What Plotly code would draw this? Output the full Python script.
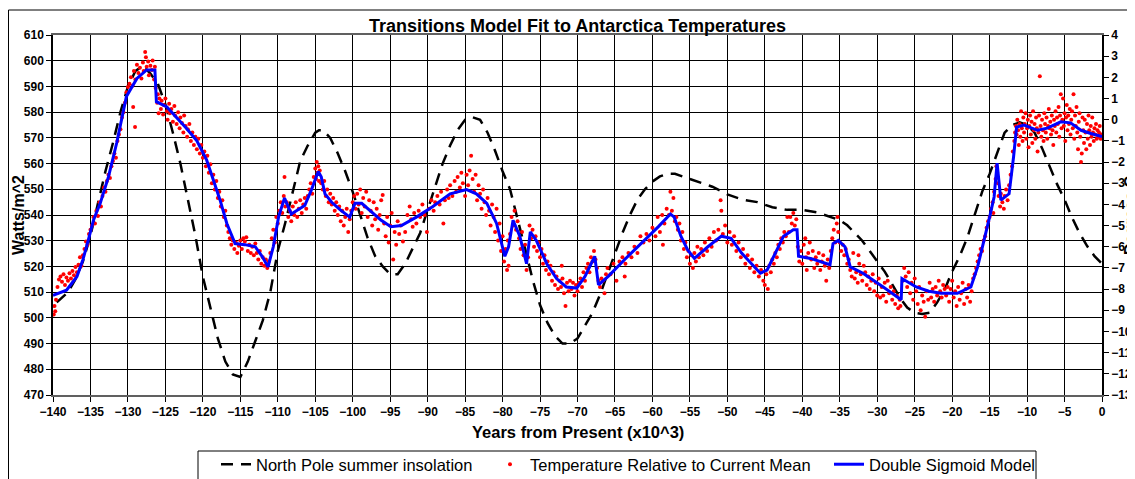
import plotly.graph_objects as go

# North Pole summer insolation (W/m^2)
insol_years = [-139.5, -138, -137, -136, -135, -134, -133, -132, -131, -130, -129, -128, -127, -126,
               -125, -124, -123, -122, -121, -120, -119, -118, -117, -116, -115, -114, -113, -112,
               -111, -110, -109, -108, -107, -106, -105, -104.5, -104, -103, -102, -101, -100, -99,
               -98, -97, -96, -95, -94, -93, -92, -91, -90, -89, -88, -87, -86, -85, -84, -83, -82,
               -81, -80, -79, -78, -77, -76, -75, -74, -73, -72, -71, -70, -69, -68, -67, -66, -65,
               -64, -63, -62, -61, -60, -59, -58, -57, -56, -55, -54, -52, -50, -48, -46, -44, -42,
               -40, -38, -36, -35, -34, -33, -32, -31, -30, -29, -28, -27, -26, -25, -24, -23, -22,
               -21, -20, -19, -18, -17, -16, -15, -14, -13, -12, -11, -10, -9, -8, -7, -6, -5, -4,
               -3, -2, -1, 0]
insol_watts = [506, 510, 515, 522, 532, 545, 557, 568, 580, 590, 596, 598, 595, 591,
               583, 572, 560, 546, 532, 516, 504, 492, 483, 478, 477, 483, 491, 499,
               510, 526, 537, 549, 561, 567, 572, 573, 573, 570, 564, 557, 549, 540,
               531, 524, 520, 517, 517, 521, 527, 533, 542, 551, 560, 567, 573, 577, 578, 577, 572,
               565, 557, 550, 539, 527, 515, 505, 498, 493, 490, 490, 492, 497, 502, 509, 517, 525,
               533, 540, 546, 550, 553, 555, 556, 556, 555, 554, 553, 551, 548, 546, 545, 543, 542,
               542, 541, 539, 538, 536, 533, 530, 526, 522, 518, 513, 508, 504, 502, 501.5, 502, 506,
               511, 518, 524, 531, 540, 549, 556, 564, 572, 575, 576, 575, 572, 566, 559, 552, 546, 539,
               533, 528, 524, 521]

# Double sigmoid model (degrees C)
model_years = [-140, -138.2, -136.8, -136.0, -135.3, -134.6, -133.7, -132.6, -131.5, -130.8, -130.2,
               -128.8, -127.5, -126.4, -126.2, -124.8, -123.5, -122.2, -120.8, -119.5, -118.6, -117.7,
               -116.8, -115.7, -114.4, -113.0, -112.1, -111.3, -110.6, -109.9, -109.1, -108.2, -107.3,
               -106.4, -105.5, -104.6, -104.2, -103.7, -102.8, -101.7, -100.4, -99.7, -98.8, -97.5,
               -96.2, -94.9, -93.5, -91.5, -89.3, -87.0, -84.8, -83.5, -82.1, -80.8, -79.7, -79.2,
               -78.6, -77.7, -76.8, -76.3, -75.5, -74.1, -72.8, -71.5, -70.1, -69.0, -67.7, -67.2,
               -65.9, -63.7, -61.5, -59.2, -57.6, -57.1, -56.2, -55.3, -54.4, -52.6, -50.8, -49.5,
               -48.1, -46.8, -45.6, -44.7, -43.4, -42.5, -41.2, -40.7, -40.5, -38.9, -36.3, -35.9,
               -35.2, -34.3, -33.6, -31.9, -29.2, -26.8, -26.7, -24.8, -23.1, -21.5, -19.3, -17.5,
               -16.6, -15.7, -14.9, -14.4, -14.0, -13.5, -12.4, -11.8, -11.4, -10.4, -8.6, -7.3,
               -5.5, -4.2, -2.8, -1.5, 0]
model_temps = [-8.3, -8.05, -7.4, -6.6, -5.7, -4.75, -3.95, -2.7, -1.1, 0.0, 1.1,
               1.95, 2.35, 2.35, 0.85, 0.6, 0.1, -0.4, -1.0, -1.9, -2.85, -3.8,
               -4.9, -5.85, -5.9, -6.0, -6.45, -6.95, -6.0, -4.6, -3.7, -4.45, -4.25,
               -4.05, -3.3, -2.45, -2.7, -3.5, -3.9, -4.25, -4.6, -3.95, -3.95, -4.35,
               -4.75, -5.05, -5.0, -4.6, -4.1, -3.5, -3.3, -3.5, -3.95, -4.9, -6.45, -6.0,
               -4.75, -5.5, -6.8, -5.3, -5.7, -6.8, -7.5, -7.9, -7.95, -7.4, -6.45, -7.8,
               -7.4, -6.6, -5.85, -5.05, -4.45, -4.6, -5.5, -6.15, -6.55, -6.0, -5.5, -5.6,
               -6.3, -6.8, -7.25, -7.1, -6.15, -5.5, -5.2, -5.2, -6.45, -6.55, -6.85, -5.85,
               -5.7, -6.0, -6.95, -7.25, -7.9, -8.5, -7.5, -7.9, -8.1, -8.2, -8.2, -7.9,
               -6.95, -5.7, -4.45, -3.65, -2.05, -3.8, -3.5, -1.75, -0.35, -0.25, -0.5, -0.4,
               -0.1, -0.15, -0.5, -0.65, -0.8]

# Ice core temperature relative to current mean (year, degrees C)
temp_points = [
    (-139.9, -9.2), (-139.8, -8.8), (-139.7, -9.05), (-139.6, -8.5), (-139.4, -7.9), (-139.2, -7.55),
    (-139.0, -7.4), (-138.8, -7.65), (-138.6, -7.3), (-138.4, -7.8), (-138.2, -7.45), (-138.0, -7.6),
    (-137.8, -7.25), (-137.6, -7.5), (-137.4, -7.15), (-137.2, -7.35), (-137.0, -6.95), (-136.8, -7.2),
    (-136.6, -6.85), (-136.4, -6.5), (-136.2, -6.9), (-136.0, -6.4),
    (-135.8, -6.1), (-135.6, -5.75), (-135.4, -5.9), (-135.2, -5.4), (-135.0, -5.2), (-134.8, -5.0),
    (-134.6, -4.6), (-134.4, -4.9), (-134.2, -4.3), (-134.0, -4.55), (-133.8, -3.9), (-133.6, -4.1),
    (-133.4, -3.6), (-133.2, -3.2), (-133.0, -3.4), (-132.8, -2.9), (-132.6, -2.6), (-132.4, -2.75),
    (-132.2, -2.2), (-132.0, -1.95), (-131.8, -1.6), (-131.6, -1.8), (-131.4, -1.0), (-131.2, -0.7),
    (-131.0, -0.45), (-130.8, 0.1), (-130.6, 0.35), (-130.4, 0.8), (-130.2, 1.3), (-130.0, 1.55),
    (-129.3, 0.6), (-129.05, -0.35),
    (-129.8, 1.7), (-129.6, 2.0), (-129.4, 1.6), (-129.2, 2.3), (-129.0, 1.9), (-128.8, 2.6),
    (-128.6, 2.2), (-128.4, 2.45), (-128.2, 1.95), (-128.0, 2.7), (-127.9, 2.3), (-127.7, 3.2),
    (-127.6, 2.95), (-127.5, 2.5), (-127.3, 2.75), (-127.2, 2.1), (-127.0, 2.55), (-126.8, 2.35),
    (-126.7, 2.8), (-126.5, 1.9), (-126.4, 2.5), (-126.3, 1.5),
    (-126.1, 0.8), (-126.0, 1.2), (-125.9, 0.3), (-125.8, 1.0), (-125.6, 0.5), (-125.5, 0.9),
    (-125.3, 0.25), (-125.2, 0.7), (-125.0, 1.0), (-124.8, 0.4), (-124.7, 0.0), (-124.5, 0.75),
    (-124.4, 0.3), (-124.2, 0.5), (-124.0, -0.1), (-123.8, 0.65), (-123.7, 0.2), (-123.5, -0.2),
    (-123.3, 0.35), (-123.1, -0.4), (-123.0, 0.1), (-122.8, -0.15), (-122.6, -0.6), (-122.5, 0.2),
    (-122.3, -0.3), (-122.1, -0.8), (-122.0, -0.45), (-121.8, -0.2), (-121.6, -1.0), (-121.4, -0.6),
    (-121.2, -1.2), (-121.0, -0.8), (-120.8, -1.4), (-120.6, -0.9), (-120.4, -1.6), (-120.2, -1.2),
    (-120.0, -1.8), (-119.8, -1.5), (-119.6, -2.2), (-119.4, -1.7), (-119.2, -2.5), (-119.0, -2.1),
    (-118.8, -3.0), (-118.6, -2.6), (-118.4, -3.3), (-118.2, -2.9), (-118.0, -3.7),
    (-117.8, -3.4), (-117.6, -4.1), (-117.4, -3.8), (-117.2, -4.6), (-117.0, -4.3), (-116.8, -5.0),
    (-116.6, -5.3), (-116.4, -5.6), (-116.2, -5.9), (-116.0, -5.7), (-115.8, -6.1), (-115.6, -5.8),
    (-115.4, -6.3), (-115.2, -5.95), (-115.0, -5.7), (-114.8, -6.1), (-114.6, -5.6), (-114.4, -5.75),
    (-114.2, -5.55), (-114.0, -6.2), (-113.8, -5.9), (-113.6, -6.3), (-113.4, -6.0), (-113.2, -6.4),
    (-113.0, -5.85), (-112.8, -6.3), (-112.6, -6.6), (-112.4, -6.2), (-112.2, -6.8), (-112.0, -6.5),
    (-111.8, -6.9), (-111.6, -6.6), (-111.4, -7.0), (-111.2, -6.7), (-111.0, -6.3),
    (-110.8, -5.6), (-110.6, -5.2), (-110.4, -5.8), (-110.2, -4.6), (-110.0, -4.9), (-109.8, -4.3),
    (-109.6, -3.9), (-109.4, -4.4), (-109.2, -3.6), (-109.1, -2.7), (-109.0, -4.1), (-108.8, -3.9),
    (-108.6, -4.6), (-108.4, -4.3), (-108.2, -4.8), (-108.0, -4.1), (-107.8, -4.5), (-107.6, -3.9),
    (-107.4, -4.6), (-107.2, -4.2), (-107.0, -3.8), (-106.8, -4.4), (-106.6, -4.0), (-106.4, -3.7),
    (-106.2, -4.2), (-106.0, -3.6), (-105.8, -3.3), (-105.6, -3.0), (-105.4, -3.5), (-105.2, -2.7),
    (-105.0, -2.3), (-104.9, -2.8), (-104.8, -2.0), (-104.7, -2.5), (-104.6, -2.2), (-104.5, -2.9),
    (-104.4, -2.4),
    (-104.2, -3.0), (-104.0, -3.3), (-103.8, -2.9), (-103.6, -3.6), (-103.4, -3.3), (-103.2, -3.9),
    (-103.0, -3.5), (-102.8, -4.0), (-102.6, -3.7), (-102.4, -4.3), (-102.2, -3.9), (-102.0, -4.5),
    (-101.8, -4.1), (-101.6, -4.8), (-101.4, -4.3), (-101.2, -5.0), (-101.0, -4.6), (-100.8, -4.2),
    (-100.6, -5.3), (-100.4, -4.7), (-100.2, -4.3), (-100.0, -3.9),
    (-99.8, -3.6), (-99.6, -4.2), (-99.4, -3.5), (-99.2, -4.0), (-99.0, -3.3), (-98.8, -4.4),
    (-98.6, -3.7), (-98.4, -4.1), (-98.2, -3.4), (-98.0, -4.6), (-97.8, -3.8), (-97.6, -4.3),
    (-97.4, -5.0), (-97.2, -3.9), (-97.0, -4.7), (-96.8, -4.2), (-96.6, -5.2), (-96.4, -4.5),
    (-96.2, -3.8), (-96.0, -3.55), (-95.8, -4.9), (-95.6, -5.5), (-95.4, -4.6), (-95.2, -5.8),
    (-95.0, -5.0), (-94.8, -4.4), (-94.6, -6.6), (-94.4, -5.3), (-94.2, -5.9), (-94.0, -4.8),
    (-93.8, -5.4), (-93.6, -5.0), (-93.3, -5.75), (-93.0, -5.3),
    (-92.7, -4.5), (-92.4, -4.1), (-92.2, -4.7), (-92.0, -5.05), (-91.8, -4.4), (-91.5, -4.9),
    (-91.2, -4.3), (-91.0, -4.6), (-90.7, -4.0), (-90.4, -4.5), (-90.1, -5.3), (-89.8, -4.2),
    (-89.5, -3.8), (-89.2, -4.3), (-89.0, -3.9), (-88.7, -3.6), (-88.4, -4.0), (-88.2, -3.4),
    (-87.9, -4.9), (-87.7, -3.8), (-87.4, -3.3), (-87.2, -3.7), (-87.0, -3.1), (-86.7, -3.6),
    (-86.4, -2.9), (-86.2, -3.4), (-86.0, -2.7), (-85.7, -3.2), (-85.5, -2.5), (-85.3, -3.0),
    (-85.0, -3.6), (-84.8, -2.6), (-84.6, -3.1), (-84.4, -2.4), (-84.2, -1.7), (-84.0, -2.8),
    (-83.8, -3.4), (-83.6, -2.6), (-83.4, -3.8), (-83.2, -3.1), (-83.0, -3.5), (-82.8, -4.2),
    (-82.6, -3.3), (-82.4, -3.9), (-82.2, -4.5), (-82.0, -3.7),
    (-81.8, -4.3), (-81.6, -5.0), (-81.4, -4.0), (-81.2, -4.6), (-81.0, -5.3), (-80.8, -4.2),
    (-80.6, -5.7), (-80.4, -4.9), (-80.2, -6.2), (-80.0, -5.5), (-79.8, -6.7), (-79.6, -6.1),
    (-79.4, -7.1), (-79.3, -5.7), (-79.2, -6.9), (-79.0, -5.4), (-78.8, -4.6), (-78.6, -5.0),
    (-78.4, -4.3), (-78.2, -5.2), (-78.0, -4.8), (-77.8, -5.6), (-77.6, -6.1), (-77.4, -5.3),
    (-77.2, -6.4), (-77.0, -5.9), (-76.8, -7.1), (-76.6, -6.5), (-76.4, -5.0), (-76.2, -5.6),
    (-76.0, -5.2), (-75.8, -6.0),
    (-75.6, -5.5), (-75.4, -6.2), (-75.2, -5.8), (-75.0, -6.5), (-74.8, -6.1), (-74.6, -6.8),
    (-74.4, -6.4), (-74.2, -7.1), (-74.0, -6.7), (-73.8, -7.3), (-73.6, -6.9), (-73.4, -7.6),
    (-73.2, -7.2), (-73.0, -7.8), (-72.8, -7.4), (-72.6, -8.0), (-72.4, -7.6), (-72.2, -7.9),
    (-72.1, -6.9), (-72.0, -7.5), (-71.8, -8.2), (-71.6, -8.8), (-71.4, -7.7), (-71.2, -8.1),
    (-71.0, -7.6), (-70.8, -8.0), (-70.6, -7.7), (-70.4, -8.3), (-70.2, -7.8),
    (-70.0, -8.1), (-69.8, -7.7), (-69.6, -7.5), (-69.4, -7.9), (-69.2, -7.2), (-69.0, -7.6),
    (-68.8, -7.0), (-68.6, -6.8), (-68.4, -7.2), (-68.2, -6.5), (-68.0, -6.7), (-67.8, -6.2),
    (-67.6, -6.6), (-67.4, -7.0), (-67.2, -7.6), (-67.0, -7.9), (-66.8, -7.5), (-66.6, -7.6),
    (-66.4, -8.2), (-66.2, -7.3), (-66.0, -7.0), (-65.6, -7.3), (-65.2, -6.8), (-64.8, -7.6),
    (-64.4, -6.7), (-64.0, -6.5), (-63.7, -7.4), (-63.6, -6.8), (-63.2, -6.3), (-62.8, -6.5),
    (-62.4, -6.0), (-62.0, -6.3), (-61.6, -5.5), (-61.2, -5.8), (-60.8, -5.4), (-60.4, -5.7),
    (-60.0, -5.1), (-59.6, -5.5), (-59.3, -4.6), (-59.0, -5.3), (-58.7, -4.5), (-58.6, -5.9),
    (-58.4, -4.9), (-58.1, -4.2), (-57.8, -4.5), (-57.6, -3.4), (-57.4, -4.3), (-57.2, -3.7),
    (-57.0, -4.8),
    (-56.8, -4.6), (-56.6, -5.2), (-56.4, -4.9), (-56.2, -5.7), (-56.0, -5.3), (-55.8, -6.1),
    (-55.6, -5.8), (-55.4, -6.5), (-55.2, -6.2), (-55.0, -6.8), (-54.8, -6.4), (-54.6, -7.0),
    (-54.4, -6.3), (-54.2, -6.7), (-54.0, -6.0), (-53.8, -6.5), (-53.5, -6.1), (-53.2, -6.4),
    (-53.0, -5.8), (-52.7, -6.2), (-52.4, -5.6), (-52.1, -6.0), (-51.8, -5.3), (-51.5, -5.7),
    (-51.2, -5.2), (-50.9, -3.8), (-50.8, -4.3), (-50.6, -5.4), (-50.3, -5.0), (-50.0, -5.8),
    (-49.7, -5.3), (-49.4, -5.9), (-49.1, -5.5), (-48.8, -6.2), (-48.5, -5.8), (-48.2, -6.5),
    (-47.9, -6.1), (-47.6, -6.8), (-47.3, -6.4), (-47.0, -7.0), (-46.7, -6.6), (-46.4, -7.2),
    (-46.1, -6.9), (-45.8, -7.4), (-45.5, -7.1), (-45.2, -7.6), (-45.0, -7.8), (-44.8, -7.3),
    (-44.6, -8.0), (-44.4, -6.9), (-44.2, -7.2), (-44.0, -6.6), (-43.8, -6.8), (-43.6, -6.3),
    (-43.4, -6.5), (-43.2, -5.9), (-43.0, -6.1), (-42.8, -5.6), (-42.6, -5.8), (-42.4, -5.3),
    (-42.2, -5.5), (-42.0, -4.6), (-41.8, -5.3), (-41.6, -4.6), (-41.4, -4.9), (-41.2, -4.4),
    (-41.0, -5.0), (-40.8, -4.7),
    (-40.6, -6.0), (-40.4, -6.7), (-40.2, -6.2), (-40.0, -6.8), (-39.8, -5.9), (-39.6, -5.6),
    (-39.5, -6.5), (-39.4, -7.1), (-39.2, -6.3), (-39.0, -5.8), (-38.8, -6.6), (-38.6, -6.2),
    (-38.4, -7.0), (-38.2, -6.5), (-38.0, -6.8), (-37.8, -6.3), (-37.6, -7.1), (-37.4, -6.7),
    (-37.2, -6.4), (-37.0, -6.9), (-36.8, -7.6), (-36.6, -6.6), (-36.4, -7.0), (-36.2, -6.2),
    (-36.0, -5.6), (-35.8, -5.2), (-35.6, -5.8), (-35.4, -4.9), (-35.3, -4.6), (-35.2, -5.3),
    (-35.0, -5.8), (-34.8, -6.2), (-34.6, -5.9), (-34.4, -6.4), (-34.2, -6.1), (-34.0, -6.8),
    (-33.8, -6.6), (-33.6, -7.1), (-33.4, -7.4), (-33.2, -6.3), (-33.0, -7.5), (-32.8, -7.2),
    (-32.6, -7.7), (-32.5, -6.4), (-32.4, -6.8), (-32.2, -7.3), (-32.0, -7.6), (-31.8, -6.9),
    (-31.6, -7.2), (-31.4, -7.8), (-31.2, -7.4), (-31.0, -8.0), (-30.8, -7.6), (-30.6, -7.3),
    (-30.4, -8.1), (-30.2, -7.7), (-30.0, -8.3), (-29.8, -7.5), (-29.6, -8.4), (-29.4, -7.9),
    (-29.2, -8.3), (-29.0, -7.7), (-28.8, -8.6), (-28.6, -7.6), (-28.4, -8.2), (-28.2, -7.9),
    (-28.0, -8.5), (-27.8, -8.1), (-27.6, -8.7), (-27.4, -8.3), (-27.2, -8.9), (-27.0, -8.5),
    (-26.9, -8.8),
    (-26.6, -7.6), (-26.4, -7.0), (-26.2, -7.4), (-26.0, -7.9), (-25.8, -7.2), (-25.6, -8.2),
    (-25.4, -7.7), (-25.2, -8.5), (-25.0, -7.5), (-24.8, -8.1), (-24.6, -8.7), (-24.4, -7.9),
    (-24.2, -9.0), (-24.0, -8.3), (-23.8, -8.6), (-23.6, -9.3), (-23.4, -8.1), (-23.2, -8.5),
    (-23.0, -7.7), (-22.8, -8.4), (-22.6, -8.0), (-22.4, -8.6), (-22.2, -7.9), (-22.0, -8.3),
    (-21.8, -7.6), (-21.6, -8.1), (-21.4, -8.4), (-21.2, -7.8), (-21.0, -8.0), (-20.8, -8.3),
    (-20.6, -7.9), (-20.4, -8.6), (-20.2, -8.0), (-20.0, -7.6), (-19.8, -8.4), (-19.6, -8.1),
    (-19.4, -8.8), (-19.2, -7.9), (-19.0, -8.5), (-18.8, -8.2), (-18.6, -7.7), (-18.4, -8.7),
    (-18.2, -8.0), (-18.0, -8.4), (-17.8, -7.8), (-17.6, -8.6), (-17.4, -8.1), (-17.2, -7.5),
    (-17.0, -7.3), (-16.8, -7.0), (-16.6, -6.7), (-16.4, -6.4), (-16.2, -6.1), (-16.0, -6.2),
    (-15.8, -5.7), (-15.6, -5.5), (-15.4, -5.1), (-15.2, -4.8), (-15.0, -4.6), (-14.8, -4.2),
    (-14.6, -3.9), (-14.5, -4.4), (-14.4, -3.4), (-14.2, -2.8), (-14.1, -2.2), (-14.0, -2.5),
    (-13.9, -3.0), (-13.8, -3.6), (-13.6, -4.1), (-13.5, -3.5), (-13.3, -3.9), (-13.1, -4.2),
    (-13.0, -3.6), (-12.8, -3.3), (-12.6, -3.8), (-12.4, -3.1), (-12.2, -2.6), (-12.0, -2.2),
    (-11.9, -1.5), (-11.7, -1.0), (-11.6, -0.6),
    (-11.5, -0.3), (-11.4, -0.7), (-11.3, 0.0), (-11.2, -0.5), (-11.1, -1.2), (-11.0, -0.2),
    (-10.9, -0.8), (-10.8, 0.4), (-10.7, -0.4), (-10.6, -1.0), (-10.5, 0.1), (-10.4, -0.6),
    (-10.3, -0.2), (-10.2, 0.3), (-10.1, -0.9), (-10.0, -0.4), (-9.9, 0.0), (-9.8, -1.3),
    (-9.7, -0.3), (-9.6, 0.2), (-9.5, -0.7), (-9.4, -0.1), (-9.3, -1.1), (-9.2, 0.4),
    (-9.1, -0.5), (-9.0, -0.2), (-8.9, -0.9), (-8.8, 0.1), (-8.7, -0.4), (-8.6, -1.5),
    (-8.5, -0.6), (-8.4, 0.2), (-8.3, 2.05), (-8.2, -0.3), (-8.1, -0.8), (-8.0, 0.0),
    (-7.9, -0.5), (-7.8, -1.0), (-7.7, 0.3), (-7.6, -0.2), (-7.5, -0.6), (-7.4, 0.1),
    (-7.3, -0.9), (-7.2, -0.3), (-7.1, 0.5), (-7.0, -0.4), (-6.9, -0.1), (-6.8, -0.7),
    (-6.7, 0.2), (-6.6, -0.5), (-6.5, -1.2), (-6.4, 0.0), (-6.3, -0.3), (-6.2, 0.4),
    (-6.1, -0.6), (-6.0, 0.1), (-5.9, -0.2), (-5.8, 0.6), (-5.7, -0.8), (-5.6, 0.2),
    (-5.5, 1.2), (-5.4, -0.4), (-5.3, 0.0), (-5.2, 1.0), (-5.1, -0.3), (-5.0, 0.3),
    (-4.9, -1.0), (-4.8, 0.1), (-4.7, 0.7), (-4.6, -0.5), (-4.5, 0.2), (-4.4, -0.2),
    (-4.3, 0.5), (-4.2, -0.7), (-4.1, 0.0), (-4.0, 0.4), (-3.9, -0.4), (-3.8, 1.2),
    (-3.7, -0.9), (-3.6, 0.2), (-3.5, -0.3), (-3.4, 0.6), (-3.3, -0.6), (-3.2, -1.4),
    (-3.1, -0.1), (-3.0, 0.3), (-2.9, -0.8), (-2.8, -2.0), (-2.7, -1.6), (-2.6, 0.1),
    (-2.5, -0.5), (-2.4, -1.1), (-2.3, 0.0), (-2.2, -0.6), (-2.1, -1.4), (-2.0, -0.2),
    (-1.9, -0.9), (-1.8, 0.2), (-1.7, -0.5), (-1.6, -1.2), (-1.5, -0.3), (-1.4, -0.8),
    (-1.3, 0.1), (-1.2, -0.6), (-1.1, -1.0), (-1.0, -0.4), (-0.9, -0.7), (-0.8, -0.2),
    (-0.7, -0.9), (-0.6, -0.5), (-0.5, -0.8), (-0.4, -0.6), (-0.3, -0.3), (-0.2, -0.9),
    (-0.1, -0.7), (0.0, -0.8),
]
temp_years = [p[0] for p in temp_points]
temp_values = [p[1] for p in temp_points]

FONT = 'Arial, Liberation Sans, sans-serif'

# the page puts the figure 8px in from the window corner; positions below are window pixels
OFF = 8
W, H = 1135 - OFF, 479 - OFF
L, T = 53 - OFF, 35 - OFF
R, B = W - (1102 - OFF), H - (395 - OFF)
pw, ph = W - L - R, H - T - B


def px_x(x):
    return (x - OFF - L) / pw


def px_y(y):
    return (H - B - (y - OFF)) / ph


fig = go.Figure()
fig.add_trace(go.Scatter(
    x=insol_years, y=insol_watts, name='North Pole summer insolation',
    mode='lines', line=dict(color='black', width=2.5, dash='12px,8px'),
    yaxis='y', legend='legend'))
fig.add_trace(go.Scatter(
    x=temp_years, y=temp_values, name='Temperature Relative to Current Mean',
    mode='markers', marker=dict(color='#ff0000', size=4), yaxis='y2', legend='legend2'))
fig.add_trace(go.Scatter(
    x=model_years, y=model_temps, name='Double Sigmoid Model',
    mode='lines', line=dict(color='#0000ff', width=3), yaxis='y2', legend='legend3'))

tickfont = dict(family=FONT, size=12, color='black', weight='bold')
legfont = dict(family=FONT, size=16.5, color='black')


def leg(x_px):
    return dict(orientation='h', x=px_x(x_px), y=px_y(447), xanchor='left', yanchor='top',
                borderwidth=0, bgcolor='rgba(0,0,0,0)', font=legfont)


def label(text, x_px, y_px, size, angle=0):
    return dict(text='<b>%s</b>' % text, xref='paper', yref='paper', x=px_x(x_px), y=px_y(y_px),
                xanchor='center', yanchor='middle', textangle=angle, showarrow=False,
                font=dict(family=FONT, size=size, color='black'))


fig.update_layout(
    width=W, height=H,
    margin=dict(l=L, r=R, t=T, b=B, autoexpand=False),
    paper_bgcolor='white', plot_bgcolor='white',
    font=dict(family=FONT, color='black'),
    showlegend=True,
    xaxis=dict(range=[-140, 0], dtick=5, tick0=0, showgrid=True, gridcolor='black', gridwidth=1,
               ticks='outside', ticklen=5, tickcolor='black', tickfont=tickfont,
               showline=True, linecolor='#606060', linewidth=2, mirror=True, zeroline=False),
    yaxis=dict(range=[470, 610], dtick=10, showgrid=True, gridcolor='black', gridwidth=1,
               ticks='outside', ticklen=5, tickcolor='black', tickfont=tickfont,
               showline=True, linecolor='black', linewidth=1.5, zeroline=False),
    yaxis2=dict(range=[-13, 4], dtick=1, overlaying='y', side='right', showgrid=False,
                ticks='outside', ticklen=5, tickcolor='black', tickfont=tickfont,
                showline=True, linecolor='black', linewidth=1.5, zeroline=False),
    legend=leg(216),
    legend2=leg(490),
    legend3=leg(829),
    shapes=[
        dict(type='rect', xref='paper', yref='paper',
             x0=px_x(8.5), x1=px_x(1145), y0=px_y(490), y1=px_y(10),
             line=dict(color='black', width=1), layer='below'),
        dict(type='rect', xref='paper', yref='paper',
             x0=px_x(198), x1=px_x(1036), y0=px_y(490), y1=px_y(451),
             line=dict(color='black', width=1), layer='below'),
    ],
    annotations=[
        label('Transitions Model Fit to Antarctica Temperatures', 577, 26, 18),
        label('Years from Present (x10^3)', 578, 432, 16.5),
        label('Watts/m^2', 18, 215, 16, -90),
        label('Degrees C', 1130, 215, 16, -90),
    ],
)

fig.write_html("out.html")
